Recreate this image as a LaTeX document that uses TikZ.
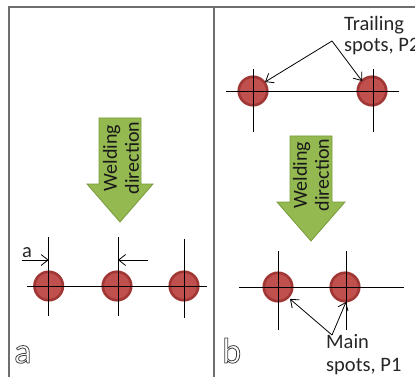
\documentclass[tikz,border=0pt]{standalone}
\usepackage{fontspec}
\setmainfont{Carlito}
\usetikzlibrary{arrows.meta}
\definecolor{arrowgreen}{RGB}{148,185,80}
\definecolor{arrowedge}{RGB}{120,155,60}
\definecolor{spotfill}{RGB}{192,80,77}
\definecolor{spotedge}{RGB}{160,55,52}
\definecolor{framegray}{RGB}{110,110,110}
\newcommand{\outlinetext}[1]{\special{pdf:literal direct 1 Tr 0.8 w}#1\special{pdf:literal direct 0 Tr}}
\tikzset{
  frameline/.style={draw=framegray, line width=1.2pt},
  spot/.style={circle, fill=spotfill, draw=spotedge, line width=2.6pt, minimum size=28.5pt, inner sep=0pt},
  axis/.style={draw=black, line width=0.9pt},
  pointer/.style={draw=black, line width=0.8pt, -{Straight Barb[length=7pt,width=11pt,line width=0.8pt]}},
  greenarrow/.style={fill=arrowgreen, draw=arrowedge, line width=0.8pt, line join=miter},
  lbl/.style={font=\fontsize{20.5}{21}\selectfont, inner sep=0pt, text=black!85},
  dirtext/.style={font=\fontsize{20}{22}\selectfont, rotate=90, align=center, inner sep=0pt, text=black!90},
  paneltag/.style={font=\fontsize{36}{36}\selectfont, inner sep=0pt, text=black!75}
}
\begin{document}
\begin{tikzpicture}[x=1pt, y=-1pt]
\useasboundingbox (0,0) rectangle (415,377);
% frame
\draw[frameline] (9,377) -- (9,7) -- (415,7);
\draw[frameline] (214,7) -- (214,377);

% ===== panel a =====
\draw[greenarrow] (99,118) -- (141,118) -- (141,184) -- (153,184) -- (120,222) -- (87,184) -- (99,184) -- cycle;
\node[dirtext] (wda) at (121,158) {Welding\\direction};

\node[spot] (a1) at (48.7,286) {};
\node[spot] (a2) at (117,286) {};
\node[spot] (a3) at (184,286) {};
\coordinate (ah0) at (27,286);
\coordinate (ah1) at (207,286);
\draw[axis] (ah0) -- (ah1);
\draw[axis] (48.7,237) -- (48.7,316);
\draw[axis] (118,237) -- (118,316);
\draw[axis] (184,239) -- (184,318);
\coordinate (aa0) at (22,260);
\coordinate (aa1) at (48.7,260);
\coordinate (ab0) at (148,260);
\coordinate (ab1) at (118,260);
\draw[pointer] (aa0) -- (aa1);
\draw[pointer] (ab0) -- (ab1);
\node[lbl, anchor=base west] (alab) at (22,257) {a};

\node[paneltag, anchor=base west] (taga) at (14,363) {\outlinetext{a}};

% ===== panel b =====
\node[spot] (t1) at (253,91) {};
\node[spot] (t2) at (372,91) {};
\draw[axis] (226,91) -- (399,91);
\draw[axis] (253,69) -- (253,132);
\draw[axis] (373,69) -- (373,132);
\node[lbl, anchor=base west] (tr1) at (344,31) {Trailing};
\node[lbl, anchor=base west] (tr2) at (344,52) {spots, P2};
\coordinate (tp) at (332,41);
\draw[pointer] (tp) -- (265,82);
\draw[pointer] (tp) -- (362,81);

\draw[greenarrow] (290,136) -- (332,136) -- (332,202) -- (345,202) -- (311,241) -- (277,202) -- (290,202) -- cycle;
\node[dirtext] (wdb) at (311,175) {Welding\\direction};

\node[spot] (m1) at (278,287) {};
\node[spot] (m2) at (345,287) {};
\draw[axis] (239,287) -- (404,287);
\draw[axis] (278,251) -- (278,330);
\draw[axis] (346,251) -- (346,330);
\node[lbl, anchor=base west] (mn1) at (326,348) {Main};
\node[lbl, anchor=base west] (mn2) at (326,371) {spots, P1};
\coordinate (mp) at (332,335);
\draw[pointer] (mp) -- (290,299);
\draw[pointer] (mp) -- (346,302);

\node[paneltag, anchor=base west] (tagb) at (222,363) {\outlinetext{b}};
\end{tikzpicture}
\end{document}
